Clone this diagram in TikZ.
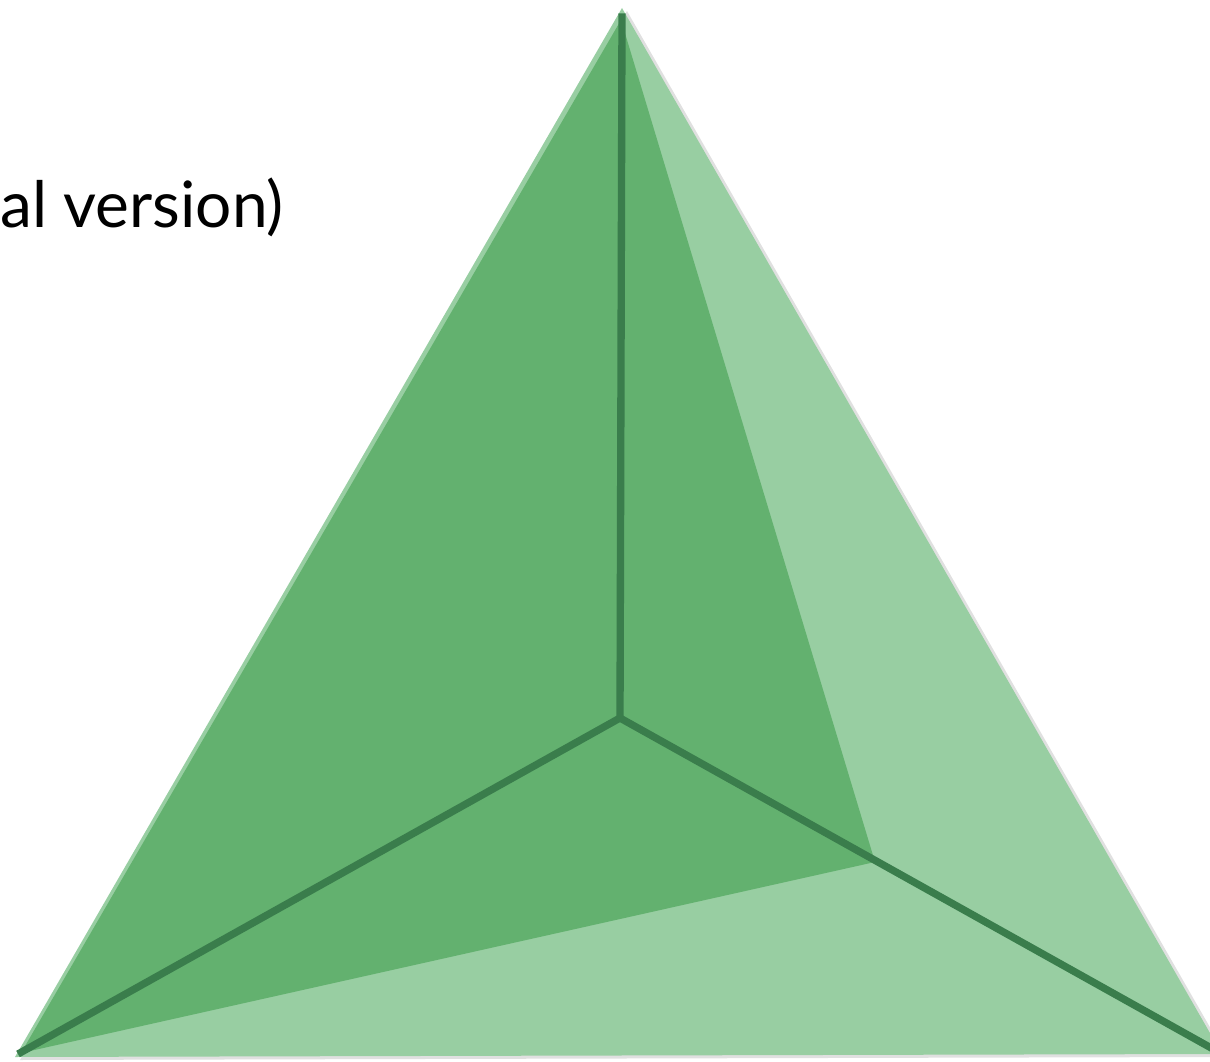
\documentclass[tikz,border=0pt]{standalone}
\usepackage{fontspec}
\setmainfont{Lato}
\definecolor{facelight}{RGB}{152,206,162}
\definecolor{facedark}{RGB}{99,177,111}
\definecolor{edgegreen}{RGB}{58,125,76}
\tikzset{
  edge/.style={draw=edgegreen, line width=5.5pt, line cap=butt, line join=round},
}
\begin{document}
\begin{tikzpicture}[x=0.75pt,y=0.75pt,yscale=-1,xscale=1]
    \useasboundingbox (0,0) rectangle (1210,1062);
    % corner points
    \coordinate (apex) at (622,8);
    \coordinate (left) at (15,1057);
    \coordinate (right) at (1222,1054);
    \coordinate (centre) at (620,718);
    \coordinate (fold) at (875,862);
    \coordinate (innerapex) at (621,20);
    \coordinate (innerleft) at (21,1053);
    %Shape: Triangle (shadow)
    \fill [black, opacity=0.12] ([shift={(5,3)}]apex) -- ([shift={(5,3)}]left) -- ([shift={(5,3)}]right) -- cycle ;
    %Shape: Triangle
    \fill [facelight] (apex) -- (left) -- (right) -- cycle ;
    %Shape: Triangle
    \fill [facedark] (innerapex) -- (innerleft) -- (fold) -- cycle ;
    %Straight Lines
    \draw [edge] (centre) -- ([yshift=4]apex) ;
    \draw [edge] (centre) -- ([shift={(3,-3)}]left) ;
    \draw [edge] (centre) -- (right) ;
    \fill [edgegreen] (centre) circle (3.2) ;

    % Text Node
    \node (title) [anchor=base west, inner sep=0pt, font=\fontsize{48}{58}\selectfont] at (0,228) {al version)};
\end{tikzpicture}
\end{document}
